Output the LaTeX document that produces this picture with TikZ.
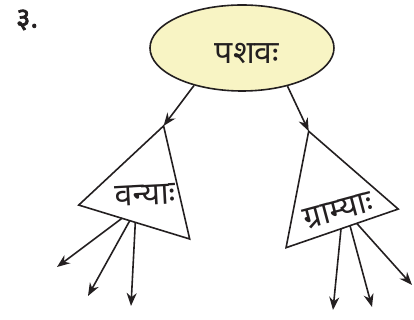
\documentclass[tikz,border=0pt]{standalone}
\usepackage{fontspec}
\newfontfamily\devfont[Script=Devanagari]{Noto Sans}
\newfontfamily\devbold[Script=Devanagari, FakeBold=2.5]{Noto Sans}
\usetikzlibrary{arrows.meta, shapes.geometric, calc}
\definecolor{lineDark}{HTML}{231F20}
\definecolor{ovalFill}{HTML}{F8F4C4}

\begin{document}
\begin{tikzpicture}[
    x=0.5pt, y=-0.5pt,
    oval/.style={ellipse, draw=lineDark, line width=0.8pt, fill=ovalFill,
                 minimum width=92pt, minimum height=43pt},
    tri/.style={regular polygon, regular polygon sides=3, draw=lineDark,
                line width=0.8pt, minimum size=#1, inner sep=0pt, outer sep=0pt},
    lbl/.style={font=\devfont\fontsize{16}{18}\selectfont, text=lineDark, inner sep=1pt},
    arr/.style={-{Stealth[length=6.5pt, width=5pt]}, line width=0.8pt, draw=lineDark},
  ]
    \useasboundingbox (0,0) rectangle (414,320);

    % number
    \node[font=\devbold\fontsize{14}{16}\selectfont, text=lineDark] (num) at (27,20) {३.};

    % Pashavah
    \node[oval] (pashu) at (242,48) {};
    \node[lbl] (pashuText) at (247,53) {पशवः};

    % Vanyah
    \node[tri=67pt, rotate=-17] (wild) at (144,190) {};
    \node[lbl, rotate=3] (vanya) at (145,195) {वन्याः};

    % Gramyah
    \node[tri=68.5pt, rotate=19] (tame) at (331,196) {};
    \node[lbl, rotate=15] (gramya) at (338,211) {ग्राम्याः};

    \draw[arr] (pashu.218) -- (wild.corner 1);
    \draw[arr] (pashu.320) -- (tame.corner 1);

    % free ends
    \coordinate (w1) at (57,267);
    \coordinate (w2) at (88,296);
    \coordinate (w3) at (131,306);
    \coordinate (t1) at (333,310);
    \coordinate (t2) at (372,307);
    \coordinate (t3) at (412,285);

    \draw[arr] ($(wild.corner 2)!0.39!(wild.corner 3)$) -- (w1);
    \draw[arr] ($(wild.corner 2)!0.46!(wild.corner 3)$) -- (w2);
    \draw[arr] ($(wild.corner 2)!0.51!(wild.corner 3)$) -- (w3);
    \draw[arr] ($(tame.corner 2)!0.49!(tame.corner 3)$) -- (t1);
    \draw[arr] ($(tame.corner 2)!0.57!(tame.corner 3)$) -- (t2);
    \draw[arr] ($(tame.corner 2)!0.63!(tame.corner 3)$) -- (t3);
  \end{tikzpicture}
\end{document}
